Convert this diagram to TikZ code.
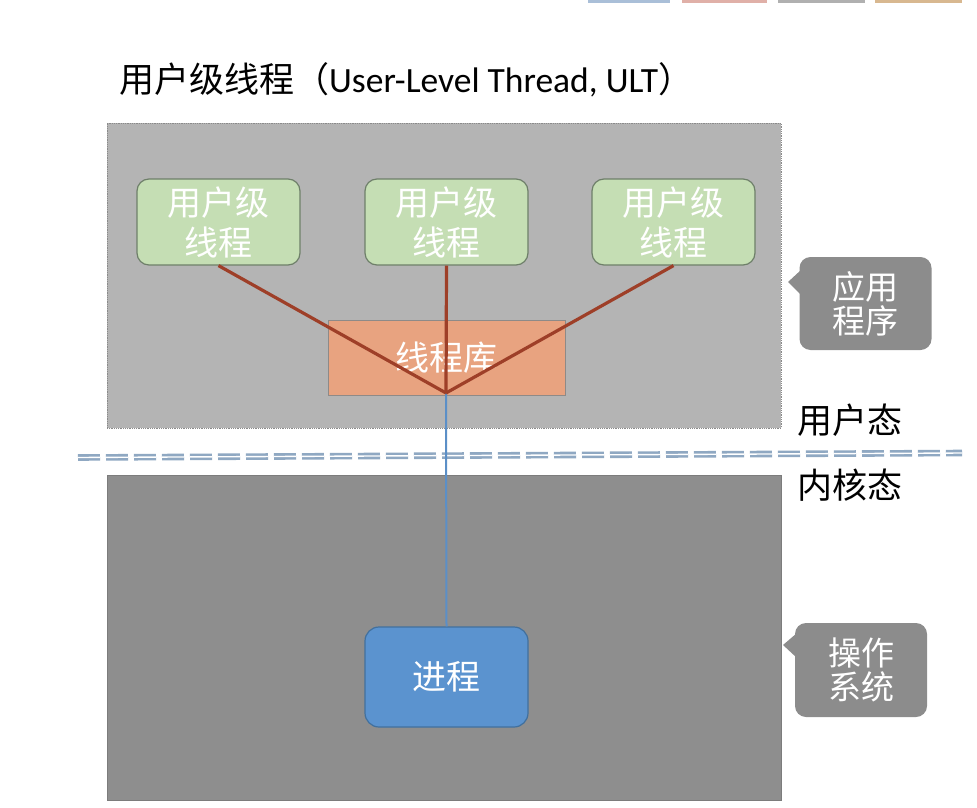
\documentclass[tikz,border=0pt]{standalone}
\usepackage{fontspec}
\setmainfont{Noto Sans CJK SC}
\newfontfamily\cjk{Noto Sans CJK SC}
\newfontfamily\lat{Carlito}
\definecolor{upbox}{HTML}{B4B4B4}
\definecolor{upborder}{HTML}{8A8A8A}
\definecolor{lowbox}{HTML}{8E8E8E}
\definecolor{lowborder}{HTML}{7C7C7C}
\definecolor{ultfill}{HTML}{C5DEB4}
\definecolor{ultborder}{HTML}{6E7F69}
\definecolor{libfill}{HTML}{E8A380}
\definecolor{libborder}{HTML}{8E8A88}
\definecolor{redline}{HTML}{9E3F28}
\definecolor{blueline}{HTML}{5B8FC7}
\definecolor{procfill}{HTML}{5B93CF}
\definecolor{procborder}{HTML}{41709E}
\definecolor{callfill}{HTML}{8C8C8C}
\definecolor{dashcol}{HTML}{8FA8C2}
\definecolor{barblue}{HTML}{AABFD8}
\definecolor{barred}{HTML}{E0B0A8}
\definecolor{bargray}{HTML}{B0B0B0}
\definecolor{barorange}{HTML}{D8B890}
\tikzset{
  ultbox/.style={draw=ultborder, line width=1.2pt, fill=ultfill, rounded corners=12pt,
    minimum width=163pt, minimum height=86pt, inner sep=0pt, text=white, align=center,
    font=\fontsize{34}{40}\selectfont},
  libbox/.style={draw=libborder, line width=1pt, fill=libfill,
    minimum width=237pt, minimum height=75pt, inner sep=0pt, text=white,
    font=\fontsize{34}{40}\selectfont},
  procbox/.style={draw=procborder, line width=1.2pt, fill=procfill, rounded corners=14pt,
    minimum width=163pt, minimum height=100pt, inner sep=0pt, text=white,
    font=\fontsize{34}{40}\selectfont},
  callout/.style={fill=callfill, rounded corners=11pt, inner sep=0pt, text=white, align=center,
    font=\fontsize{33}{34}\selectfont},
  statelabel/.style={inner sep=0pt, text=black, font=\fontsize{35}{40}\selectfont},
  redconn/.style={draw=redline, line width=3.2pt},
  blueconn/.style={draw=blueline, line width=2pt},
}
\begin{document}
\begin{tikzpicture}[x=1pt,y=-1pt]
\useasboundingbox (0,0) rectangle (977,808);
% faint toolbar bars at top
\fill[barblue] (588,0) rectangle (670,3);
\fill[barred] (682,0) rectangle (767,3);
\fill[bargray] (778,0) rectangle (865,3);
\fill[barorange] (875,0) rectangle (962,3);

% title
\node[anchor=west, inner sep=0pt] (title) at (119,80)
  {\fontsize{35}{40}\selectfont\cjk 用户级线程（{\lat\fontsize{35.5}{40}\selectfont User-Level Thread, ULT}）};

% user space box
\node[draw=upborder, densely dotted, line width=0.8pt, fill=upbox, minimum width=674pt, minimum height=305pt, inner sep=0pt] (user) at (444,275.5) {};
% kernel box
\node[draw=lowborder, line width=0.8pt, fill=lowbox, minimum width=674pt, minimum height=325pt, inner sep=0pt] (kernel) at (444,637.5) {};

% dashed double separator
\coordinate (sepL) at (78,457.5);
\coordinate (sepR) at (962,453);
\draw[dashcol, line width=2.6pt, double=white, double distance=1.4pt, dash pattern=on 22pt off 6pt] (sepL) -- (sepR);

% library
\node[libbox] (lib) at (446.5,357.5) {线程库};
\coordinate (hub) at (446,393);

% user-level threads
\node[ultbox] (t1) at (218.5,222) {用户级\\线程};
\node[ultbox] (t2) at (446.5,222) {用户级\\线程};
\node[ultbox] (t3) at (673.5,222) {用户级\\线程};

% process
\node[procbox] (proc) at (446.5,677) {进程};

% connectors
\draw[blueconn] (hub) -- (proc.north);
\draw[redconn] (t1.south) -- (hub);
\draw[redconn] (t2.south) -- (hub);
\draw[redconn] (t3.south) -- (hub);

% callouts
\node[callout, minimum width=132pt, minimum height=93pt] (app) at (865.5,303.5) {应用\\程序};
\fill[callfill] (788,282) -- (801,270) -- (801,295) -- cycle;
\node[callout, minimum width=132pt, minimum height=94pt] (os) at (861,670) {操作\\系统};
\fill[callfill] (783,645) -- (797,633) -- (797,658) -- cycle;

% state labels
\node[statelabel, anchor=west] (ustate) at (797,420) {用户态};
\node[statelabel, anchor=west] (kstate) at (797,485) {内核态};
\end{tikzpicture}
\end{document}
